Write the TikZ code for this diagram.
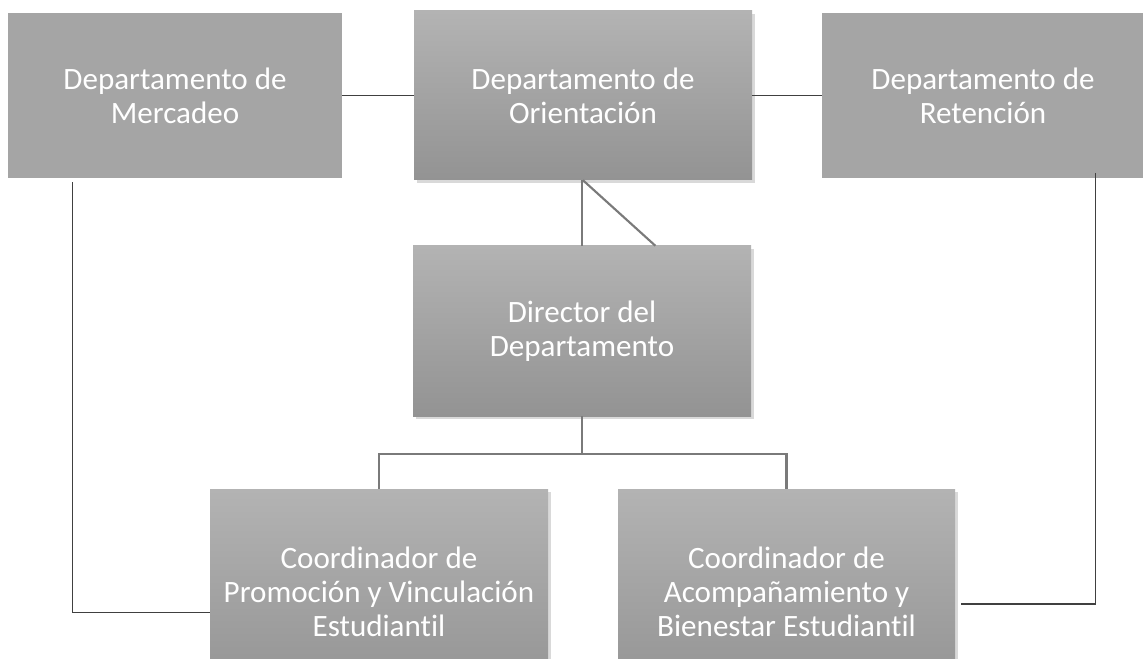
\documentclass[tikz,border=0pt]{standalone}
\usepackage{fontspec}
\setmainfont{Carlito}[Ligatures=NoCommon]
\usetikzlibrary{positioning,shadows,calc}

\definecolor{boxflat}{HTML}{A5A5A5}
\definecolor{boxtop}{HTML}{B3B3B3}
\definecolor{boxbot}{HTML}{939393}
\definecolor{linkgray}{HTML}{7A7A7A}
\definecolor{linkdark}{HTML}{404040}

\begin{document}
\begin{tikzpicture}[x=0.75pt, y=-0.75pt,
  flatbox/.style={rectangle, fill=boxflat, text=white, align=center, inner sep=0pt,
                  font=\fontsize{23.3}{25.5}\selectfont},
  shadebox/.style={flatbox, top color=boxtop, bottom color=boxbot,
                   drop shadow={shadow xshift=2pt, shadow yshift=-2.5pt, opacity=0.3}},
  darkline/.style={draw=linkdark, line width=0.9pt},
  grayline/.style={draw=linkgray, line width=1.6pt}]

\useasboundingbox (0,0) rectangle (1143,659);

\node[flatbox]  (Mercadeo)    at (175,95.5)  [minimum width=250.5pt, minimum height=123.75pt] {Departamento de\\Mercadeo};
\node[shadebox] (Orientacion) at (583,95.5)  [minimum width=253.5pt, minimum height=126.75pt] {Departamento de\\Orientación};
\node[flatbox]  (Retencion)   at (983,95.5)  [minimum width=241.5pt, minimum height=123.75pt] {Departamento de\\Retención};

\node[shadebox] (Director)    at (582,331)   [minimum width=253.5pt, minimum height=127.5pt] {Director del\\Departamento};

\node[shadebox] (Promocion)      at (379,592)   [minimum width=253.5pt, minimum height=154.5pt] {Coordinador de\\Promoción y Vinculación\\Estudiantil};
\node[shadebox] (Acompanamiento) at (786.5,592) [minimum width=252.75pt, minimum height=154.5pt] {Coordinador de\\Acompañamiento y\\Bienestar Estudiantil};

% top row
\draw[darkline] (Mercadeo) -- (Orientacion);
\draw[darkline] (Orientacion) -- (Retencion);

% side links
\draw[darkline] ([xshift=48.75pt, yshift=-3pt]Mercadeo.south west) |- ([yshift=-15.5pt]Promocion.west);
\draw[darkline] ([xshift=205.5pt, yshift=4pt]Retencion.south west) |- ([xshift=4pt, yshift=-9pt]Acompanamiento.east);

% director
\draw[grayline] (Director.north) -- (Director.north |- Orientacion.south);
\draw[grayline] (Orientacion.south) -- ([xshift=55pt]Director.north);
\draw[grayline] (Director.south) -- ++(0,38) coordinate (fork) -| (Promocion.north);
\draw[grayline] (fork) -| (Acompanamiento.north);

\end{tikzpicture}
\end{document}
